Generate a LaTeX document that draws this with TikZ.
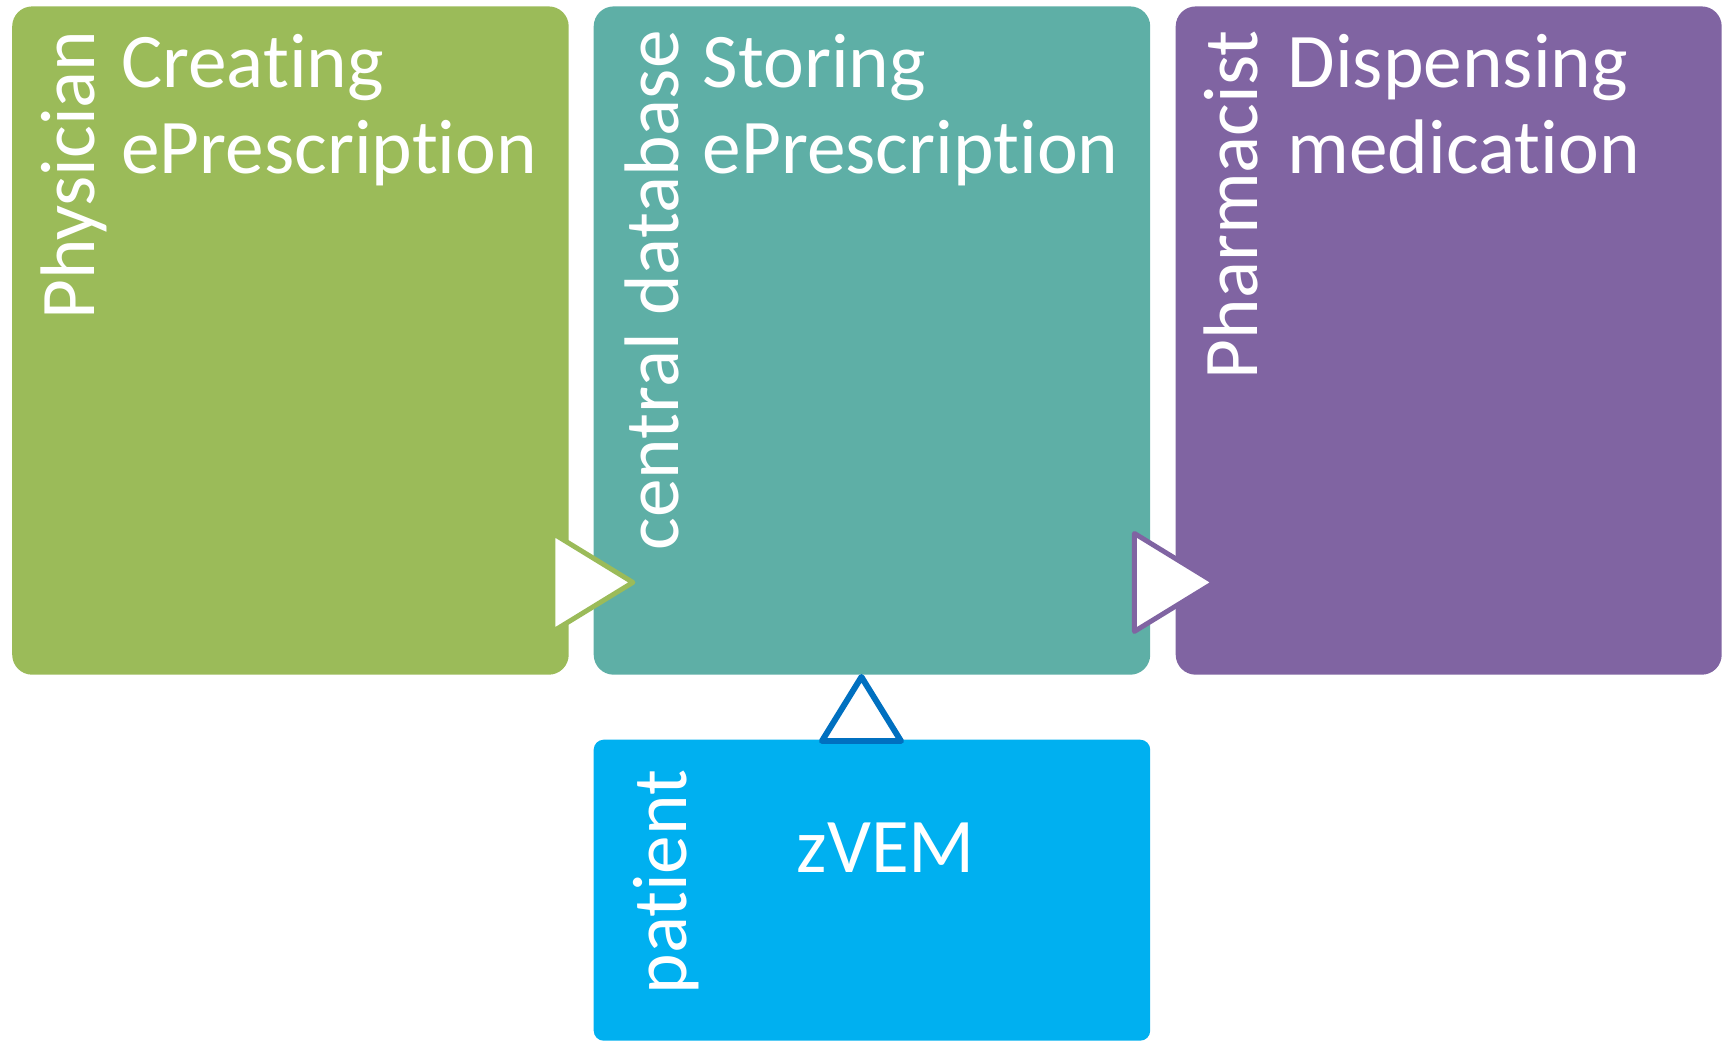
\documentclass[tikz,border=0pt]{standalone}
\usepackage{fontspec}
\setmainfont{Carlito}[Ligatures=NoCommon]
\usepackage{tikz}
\usetikzlibrary{calc}

\definecolor{physgreen}{HTML}{9BBB59}
\definecolor{dbteal}{HTML}{5EAFA6}
\definecolor{pharmpurple}{HTML}{8064A2}
\definecolor{patblue}{HTML}{00B0F0}
\definecolor{tipblue}{HTML}{0070C0}

\tikzset{
  stage/.style={anchor=north west,inner sep=0pt,rounded corners=0.2cm,minimum width=5.565cm,minimum height=6.683cm},
  role/.style={rotate=90,anchor=base east,inner sep=0pt,text=white},
  task/.style={anchor=base west,inner sep=0pt,text=white,text width=4.5cm,align=left},
  tip/.style={fill=white,line width=1.4pt,line join=round}
}

\begin{document}
\begin{tikzpicture}[font=\fontsize{22pt}{24.2pt}\selectfont]
\useasboundingbox(0,0) rectangle (17.22,-10.42);
\node[stage,fill=physgreen](physician) at (0.115,-0.057){};
\node[stage,fill=dbteal](database) at (5.93,-0.057){};
\node[stage,fill=pharmpurple,minimum width=5.46cm](pharmacist) at (11.75,-0.057){};
\node[stage,fill=patblue,rounded corners=0.1cm,minimum height=3.01cm](patient) at (5.93,-7.39){};

\node[role](physicianlbl) at ($(physician.north west)+(0.83,-0.24)$){Physician};
\node[role](databaselbl) at ($(database.north west)+(0.855,-0.24)$){central database};
\node[role](pharmacistlbl) at ($(pharmacist.north west)+(0.825,-0.24)$){Pharmacist};
\node[role](patientlbl) at ($(patient.north west)+(0.935,-0.30)$){patient};

\node[task](creating) at ($(physician.north west)+(1.09,-0.823)$){Creating\\ePrescription};
\node[task](storing) at ($(database.north west)+(1.09,-0.823)$){Storing\\ePrescription};
\node[task](dispensing) at ($(pharmacist.north west)+(1.12,-0.823)$){Dispensing\\medication};
\node[anchor=base west,inner sep=0pt,text=white](zvem) at ($(patient.north west)+(2.03,-1.33)$){zVEM};

\coordinate(gtip) at ($(physician.south east)+(-0.165,0.93)$);
\draw[tip,draw=physgreen]($(gtip)+(0,0.49)$)--($(gtip)+(0.8,0)$)--($(gtip)+(0,-0.49)$)--cycle;
\coordinate(ttip) at ($(database.south east)+(-0.165,0.93)$);
\draw[tip,draw=pharmpurple]($(ttip)+(0,0.49)$)--($(ttip)+(0.8,0)$)--($(ttip)+(0,-0.49)$)--cycle;
\coordinate(ptip) at ($(patient.north)+(-0.105,-0.02)$);
\draw[tip,draw=tipblue,line width=1.7pt]($(ptip)+(-0.395,0)$)--($(ptip)+(0,0.64)$)--($(ptip)+(0.395,0)$)--cycle;
\end{tikzpicture}
\end{document}
